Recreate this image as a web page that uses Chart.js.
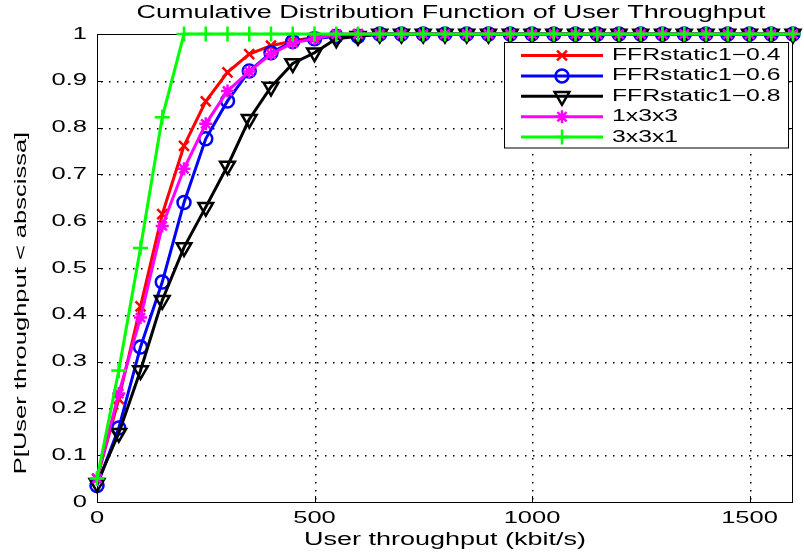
<!DOCTYPE html>
<html>
<head>
<meta charset="utf-8">
<script src="https://cdn.jsdelivr.net/npm/chart.js@4.4.1/dist/chart.umd.min.js"></script>
<style>
  html, body { margin: 0; padding: 0; background: #fff; }
  #wrap { width: 804px; height: 556px; }
</style>
</head>
<body>
<div id="wrap"><canvas id="cdf" width="804" height="556"></canvas></div>
<script>
// Throughput samples (kbit/s) and CDF values
const throughput = [0, 50, 100, 150, 200, 250, 300, 350, 400, 450, 500, 550, 600, 650, 700, 750, 800,
                    850, 900, 950, 1000, 1050, 1100, 1150, 1200, 1250, 1300, 1350, 1400, 1450, 1500, 1550, 1600];

const ffr04 = [0.05, 0.22, 0.418, 0.615, 0.761, 0.856, 0.918, 0.957, 0.975, 0.985, 0.993, 0.997, 1,
               1, 1, 1, 1, 1, 1, 1, 1, 1, 1, 1, 1, 1, 1, 1, 1, 1, 1, 1, 1];
const ffr06 = [0.035, 0.158, 0.331, 0.47, 0.64, 0.776, 0.857, 0.921, 0.96, 0.984, 0.99, 0.995, 0.995,
               1, 1, 1, 1, 1, 1, 1, 1, 1, 1, 1, 1, 1, 1, 1, 1, 1, 1, 1, 1];
const ffr08 = [0.04, 0.147, 0.281, 0.431, 0.544, 0.63, 0.718, 0.818, 0.887, 0.937, 0.96, 0.99, 0.995,
               1, 1, 1, 1, 1, 1, 1, 1, 1, 1, 1, 1, 1, 1, 1, 1, 1, 1, 1, 1];
const reuse133 = [0.05, 0.232, 0.394, 0.59, 0.712, 0.808, 0.878, 0.92, 0.957, 0.981, 0.99, 1, 1,
                  1, 1, 1, 1, 1, 1, 1, 1, 1, 1, 1, 1, 1, 1, 1, 1, 1, 1, 1, 1];
const reuse331 = [0.05, 0.281, 0.543, 0.822, 1, 1, 1, 1, 1, 1, 1, 1, 1,
                  1, 1, 1, 1, 1, 1, 1, 1, 1, 1, 1, 1, 1, 1, 1, 1, 1, 1, 1, 1];

const seriesNames = ['FFRstatic1\u22120.4', 'FFRstatic1\u22120.6', 'FFRstatic1\u22120.8', '1x3x3', '3x3x1'];
const xTicks = [0, 500, 1000, 1500];
const yTicks = [0, 0.1, 0.2, 0.3, 0.4, 0.5, 0.6, 0.7, 0.8, 0.9, 1];

const FONT = '"Liberation Sans", Arial, Helvetica, sans-serif';

function pairs(ys) {
  return throughput.map((x, i) => ({ x: x, y: ys[i] }));
}

// MATLAB fonts come out wide, so stretch text horizontally
function wideText(ctx, text, x, y, size, sx, align, angle) {
  ctx.save();
  ctx.font = size + 'px ' + FONT;
  ctx.textBaseline = 'middle';
  ctx.textAlign = 'left';
  ctx.fillStyle = '#000';
  const w = ctx.measureText(text).width * sx;
  ctx.translate(x, y);
  if (angle) ctx.rotate(angle);
  const left = align === 'center' ? -w / 2 : align === 'right' ? -w : 0;
  ctx.translate(left, 0);
  ctx.scale(sx, 1);
  ctx.fillText(text, 0, 0);
  ctx.restore();
}

function lineSet(label, ys, color, style, radius, filled, order, rotation) {
  return {
    label: label,
    data: pairs(ys),
    borderColor: color,
    backgroundColor: color,
    borderWidth: 3,
    tension: 0,
    pointStyle: style,
    pointRadius: radius,
    pointRotation: rotation || 0,
    pointBorderWidth: 2.5,
    pointBorderColor: color,
    pointBackgroundColor: filled ? color : 'rgba(0,0,0,0)',
    clip: false,
    order: order
  };
}

// Grid, box, inward ticks, tick labels, titles and legend in MATLAB style
const matlabAxes = {
  id: 'matlabAxes',
  beforeDatasetsDraw(chart) {
    const { ctx, chartArea: a } = chart;
    const xs = chart.scales.x, ys = chart.scales.y;
    ctx.save();
    // dotted grid, one small square per dot
    ctx.fillStyle = '#000';
    xTicks.slice(1).forEach(v => {
      const px = Math.round(xs.getPixelForValue(v));
      for (let y = a.bottom - 4; y > a.top; y -= 8) ctx.fillRect(px, Math.round(y), 1.5, 1.5);
    });
    yTicks.slice(1, -1).forEach(v => {
      const py = Math.round(ys.getPixelForValue(v));
      for (let x = a.left + 4; x < a.right; x += 8) ctx.fillRect(Math.round(x), py, 1.5, 1.5);
    });
    // box and ticks
    ctx.strokeStyle = '#000';
    ctx.lineWidth = 1;
    ctx.beginPath();
    ctx.rect(Math.round(a.left) + 0.5, Math.round(a.top) + 0.5,
             Math.round(a.right - a.left) - 1, Math.round(a.bottom - a.top));
    xTicks.forEach(v => {
      const px = Math.round(xs.getPixelForValue(v)) + 0.5;
      ctx.moveTo(px, a.bottom); ctx.lineTo(px, a.bottom - 6);
      ctx.moveTo(px, a.top); ctx.lineTo(px, a.top + 6);
    });
    yTicks.forEach(v => {
      const py = Math.round(ys.getPixelForValue(v)) + 0.5;
      ctx.moveTo(a.left, py); ctx.lineTo(a.left + 6, py);
      ctx.moveTo(a.right, py); ctx.lineTo(a.right - 6, py);
    });
    ctx.stroke();
    ctx.restore();
  },
  afterDatasetsDraw(chart) {
    const ctx = chart.ctx;
    const box = { x: 504.5, y: 42.5, w: 284, h: 105.5 };
    ctx.save();
    ctx.fillStyle = '#fff';
    ctx.strokeStyle = '#000';
    ctx.lineWidth = 1;
    ctx.fillRect(box.x, box.y, box.w, box.h);
    ctx.strokeRect(box.x, box.y, box.w, box.h);
    chart.data.datasets.forEach((ds, i) => {
      const ry = 55.5 + i * 20.4;
      ctx.strokeStyle = ds.borderColor;
      ctx.lineWidth = ds.borderWidth;
      ctx.beginPath();
      ctx.moveTo(521, ry);
      ctx.lineTo(603, ry);
      ctx.stroke();
      ctx.fillStyle = ds.pointBackgroundColor;
      ctx.lineWidth = ds.pointBorderWidth;
      if (Chart.helpers && Chart.helpers.drawPoint) {
        Chart.helpers.drawPoint(ctx, {
          pointStyle: ds.pointStyle,
          rotation: ds.pointRotation,
          radius: ds.pointRadius,
          borderWidth: ds.pointBorderWidth
        }, 562, ry);
      }
      wideText(ctx, ds.label, 612, ry, 16.5, 1.5, 'left');
    });
    ctx.restore();
  },
  afterDraw(chart) {
    const { ctx, chartArea: a } = chart;
    const xs = chart.scales.x, ys = chart.scales.y;
    xTicks.forEach(v => {
      wideText(ctx, String(v), xs.getPixelForValue(v), 518, 17, 1.5, 'center');
    });
    yTicks.forEach(v => {
      wideText(ctx, String(v), 87, ys.getPixelForValue(v), 17, 1.5, 'right');
    });
    wideText(ctx, 'Cumulative Distribution Function of User Throughput', 451, 13.5, 18, 1.5, 'center');
    wideText(ctx, 'User throughput (kbit/s)', (a.left + a.right) / 2, 540, 18, 1.5, 'center');
    wideText(ctx, 'P[User throughput < abscissa]', 21, 303, 17, 1.5, 'center', -Math.PI / 2);
  }
};

const ctx = document.getElementById('cdf').getContext('2d');
const chart = new Chart(ctx, {
  type: 'line',
  data: {
    datasets: [
      lineSet(seriesNames[0], ffr04, '#ff0000', 'crossRot', 7, true, 5),
      lineSet(seriesNames[1], ffr06, '#0000ff', 'circle', 6.5, false, 4),
      lineSet(seriesNames[2], ffr08, '#000000', 'triangle', 8.5, false, 3, 180),
      lineSet(seriesNames[3], reuse133, '#ff00ff', 'star', 6.5, true, 2),
      lineSet(seriesNames[4], reuse331, '#00ff00', 'cross', 7.5, true, 1)
    ]
  },
  options: {
    responsive: false,
    devicePixelRatio: 1,
    animation: false,
    layout: { padding: { top: 34, right: 2, left: 0, bottom: 0 } },
    plugins: {
      legend: { display: false },
      title: { display: false },
      tooltip: { enabled: false }
    },
    scales: {
      x: {
        type: 'linear',
        min: 0,
        max: 1600,
        afterBuildTicks: s => { s.ticks = xTicks.map(v => ({ value: v })); },
        afterFit: s => { s.height = 54; },
        ticks: { display: false },
        grid: { display: false },
        border: { display: false }
      },
      y: {
        type: 'linear',
        min: 0,
        max: 1,
        afterBuildTicks: s => { s.ticks = yTicks.map(v => ({ value: v })); },
        afterFit: s => { s.width = 97; },
        ticks: { display: false },
        grid: { display: false },
        border: { display: false }
      }
    }
  },
  plugins: [matlabAxes]
});
</script>
</body>
</html>
